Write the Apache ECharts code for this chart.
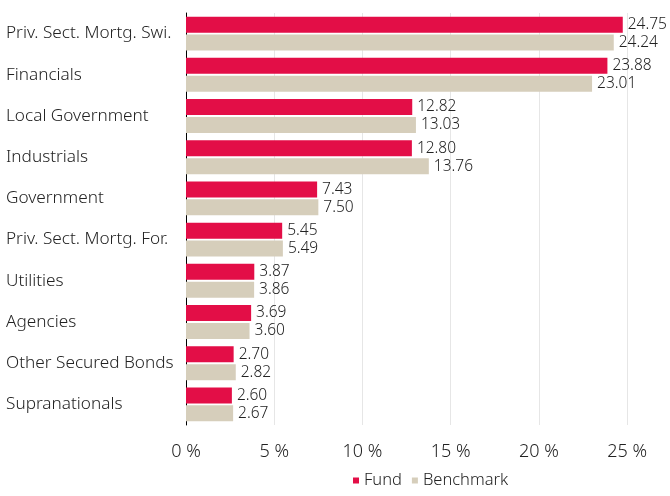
<!DOCTYPE html>
<html>
<head>
<meta charset="utf-8">
<script src="https://cdn.jsdelivr.net/npm/echarts@6/dist/echarts.min.js"></script>
<style>
  html, body { margin: 0; padding: 0; background: #fff; }
  #chart { width: 670px; height: 496px; }
</style>
</head>
<body>
<div id="chart"></div>
<script>
const categories = [
  'Priv. Sect. Mortg. Swi.', 'Financials', 'Local Government', 'Industrials',
  'Government', 'Priv. Sect. Mortg. For.', 'Utilities', 'Agencies',
  'Other Secured Bonds', 'Supranationals'
]
const fundValues = [24.75, 23.88, 12.82, 12.80, 7.43, 5.45, 3.87, 3.69, 2.70, 2.60]
const benchmarkValues = [24.24, 23.01, 13.03, 13.76, 7.50, 5.49, 3.86, 3.60, 2.82, 2.67]
const xTicks = [0, 5, 10, 15, 20, 25]

const font = 'Noto Sans'
const weight = 300
const chart = echarts.init(document.getElementById('chart'))

const labelStyle = {
  show: true,
  position: 'right',
  distance: 5,
  color: '#222',
  fontFamily: font,
  fontWeight: weight,
  fontSize: 15.5,
  formatter: p => p.value.toFixed(2)
}

chart.setOption({
  animation: false,
  textStyle: { fontFamily: font },
  legend: {
    bottom: 2,
    left: 348,
    itemWidth: 6,
    itemHeight: 6,
    itemGap: 10,
    icon: 'rect',
    textStyle: { fontFamily: font, fontWeight: weight, fontSize: 16.5, color: '#222' },
    data: ['Fund', 'Benchmark']
  },
  grid: { left: 186, right: 4, top: 13, bottom: 71, containLabel: false },
  xAxis: {
    type: 'value',
    min: 0,
    max: 27.2,
    interval: 5,
    axisLine: { show: false },
    axisTick: { show: false },
    splitLine: { show: true, showMaxLine: false, lineStyle: { color: '#e6e6e6', width: 1 } },
    axisLabel: {
      showMaxLabel: false,
      margin: 18,
      color: '#222',
      fontFamily: font,
      fontWeight: weight,
      fontSize: 18,
      formatter: v => xTicks.includes(v) ? v + ' %' : ''
    }
  },
  yAxis: {
    type: 'category',
    inverse: true,
    data: categories,
    axisLine: { show: true, lineStyle: { color: '#000', width: 1 } },
    axisTick: { show: false },
    axisLabel: {
      align: 'left',
      margin: 180,
      color: '#222',
      fontFamily: font,
      fontWeight: weight,
      fontSize: 17.2
    }
  },
  series: [
    {
      name: 'Fund',
      type: 'bar',
      data: fundValues,
      barWidth: 16,
      barGap: '12%',
      itemStyle: { color: '#e30e47' },
      label: labelStyle
    },
    {
      name: 'Benchmark',
      type: 'bar',
      data: benchmarkValues,
      barWidth: 16,
      itemStyle: { color: '#d6cebb' },
      label: labelStyle
    }
  ]
})
</script>
</body>
</html>
